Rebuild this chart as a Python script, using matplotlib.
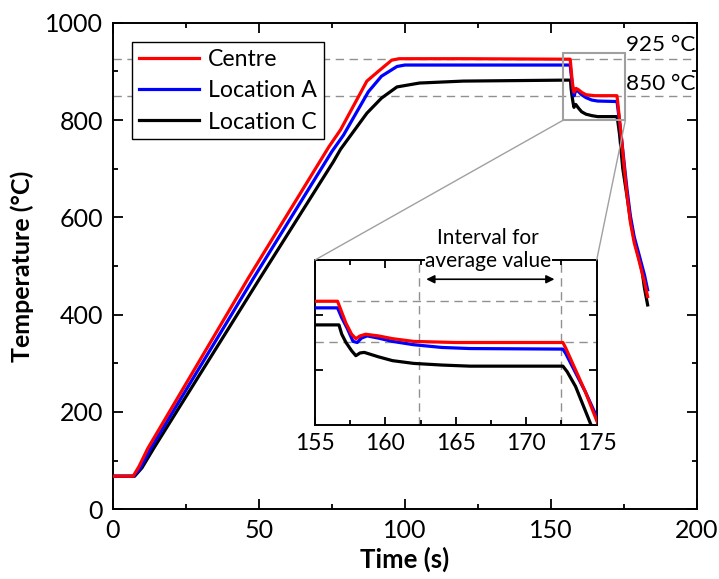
import matplotlib
matplotlib.use("Agg")
import matplotlib.pyplot as plt
import numpy as np
from matplotlib.patches import Rectangle, ConnectionPatch

plt.rcParams['font.family'] = ['Lato', 'DejaVu Sans']

# ---- data ----
centre_t = [0, 7.0, 9.0, 12.0, 46.4, 74.0, 78.0, 87.0, 91.5, 95.5, 98.0, 120.0, 155.0, 156.6,
            156.9, 157.2, 157.6, 157.9, 158.2, 158.6, 159.5, 160.5, 162.0, 165.0, 172.6,
            172.8, 173.5, 174.2, 175.0, 176.0, 177.2, 178.5, 180.0, 181.2, 182.0, 183.1]
centre_T = [68, 68, 88, 125, 475, 745, 780, 880, 903, 923, 926, 926, 925, 925,
            905, 885, 865, 857, 862, 865, 862, 857, 852, 850, 850,
            840, 800, 760, 708, 648, 590, 548, 515, 486, 468, 437]

locA_t = [0, 7.2, 9.5, 13.0, 48.2, 75.0, 79.0, 87.5, 92.0, 97.3, 100.0, 155.0, 156.6,
          156.9, 157.3, 157.7, 158.0, 158.3, 158.7, 159.5, 160.5, 162.0, 164.0, 166.0, 172.6,
          172.8, 173.5, 174.2, 175.0, 176.0, 177.2, 178.5, 180.0, 181.2, 182.0, 183.1]
locA_T = [68, 68, 85, 125, 475, 735, 769, 858, 890, 910, 913, 913, 913,
          895, 875, 852, 850, 858, 862, 858, 852, 846, 841, 839, 838,
          830, 795, 760, 715, 660, 603, 560, 527, 500, 482, 451]

locC_t = [0, 7.5, 10.0, 14.0, 50.4, 75.5, 78.0, 87.0, 92.0, 97.3, 105.0, 120.0, 155.0, 156.7,
          156.9, 157.2, 157.6, 157.9, 158.2, 158.5, 159.5, 160.5, 162.0, 164.0, 166.0, 172.6,
          172.9, 173.5, 174.6, 176.0, 177.2, 178.5, 180.0, 181.2, 182.0, 183.1]
locC_T = [68, 68, 85, 125, 475, 714, 740, 814, 845, 868, 876, 880, 882, 882,
          865, 850, 835, 826, 831, 832, 824, 817, 812, 809, 807, 807,
          797, 770, 700, 645, 595, 555, 518, 490, 455, 420]

series_names = ["Centre", "Location A", "Location C"]
series_colors = ["#ff0000", "#0000ff", "#000000"]
ref_levels = [925, 850]
ref_labels = ["925 °C", "850 °C"]
interval = [162.4, 172.5]
main_xticks = [0, 50, 100, 150, 200]
main_yticks = [0, 200, 400, 600, 800, 1000]
inset_xticks = [155, 160, 165, 170, 175]
inset_yticks = [800, 900]

series = [(centre_t, centre_T), (locA_t, locA_T), (locC_t, locC_T)]

W, H = 719, 579
fig = plt.figure(figsize=(W / 100, H / 100), dpi=100)
ax = fig.add_axes([112.7 / W, 1 - 509.3 / H, (697 - 112.7) / W, (509.3 - 22.7) / H])

grey = "#909090"
for lvl in ref_levels:
    ax.axhline(lvl, color=grey, lw=1.0, ls=(0, (6, 4)), zorder=1)

order = [2, 1, 0]
handles = {}
for i in order:
    t, T = series[i]
    h, = ax.plot(t, T, color=series_colors[i], lw=2.3, label=series_names[i], zorder=3 + (2 - i))
    handles[i] = h

ax.set_xlim(0, 200)
ax.set_ylim(0, 1000)
ax.set_xticks(main_xticks)
ax.set_yticks(main_yticks)
ax.set_xticks(np.arange(25, 200, 50), minor=True)
ax.set_yticks(np.arange(100, 1000, 200), minor=True)
ax.tick_params(which="both", direction="in", top=True, right=True, width=1.3, labelsize=18, pad=7)
ax.tick_params(which="major", length=7)
ax.tick_params(which="minor", length=3.5)
for s in ax.spines.values():
    s.set_linewidth(1.4)
ax.set_xlabel("Time (s)", fontsize=18.5, fontweight="bold", labelpad=3)
ax.set_ylabel("Temperature (°C)", fontsize=18, fontweight="bold", labelpad=8)

leg = ax.legend([handles[0], handles[1], handles[2]], series_names, loc="upper left",
                bbox_to_anchor=(19.0 / 584.3, 1 - 19.0 / 486.6), fontsize=16.7, frameon=True,
                fancybox=False, edgecolor="black", framealpha=1, handlelength=2.6,
                handletextpad=0.4, borderpad=0.3, labelspacing=0.45, borderaxespad=0)
leg.get_frame().set_linewidth(1.0)
leg.set_zorder(10)
for ln in leg.get_lines():
    ln.set_linewidth(2.3)

ax.text(175.6, 954, ref_labels[0], fontsize=16.2, va="center", ha="left", zorder=6)
ax.text(175.6, 875, ref_labels[1], fontsize=16.2, va="center", ha="left", zorder=6)

# zoom rectangle
rx0, rx1, ry0, ry1 = 154.3, 175.5, 800, 937
ax.add_patch(Rectangle((rx0, ry0), rx1 - rx0, ry1 - ry0, fill=False, edgecolor="#a0a0a0",
                       lw=1.5, zorder=7))

# inset
iax = fig.add_axes([315 / W, 1 - 425 / H, (596.7 - 315) / W, (425 - 260) / H])
for lvl in ref_levels:
    iax.axhline(lvl, color=grey, lw=1.0, ls=(0, (6, 4)), zorder=1)
for x in interval:
    iax.axvline(x, color=grey, lw=1.0, ls=(0, (6, 4)), zorder=1)
for i in order:
    t, T = series[i]
    iax.plot(t, T, color=series_colors[i], lw=2.3, zorder=3 + (2 - i))
iax.set_xlim(155, 175)
iax.set_ylim(700, 1000)
iax.set_xticks(inset_xticks)
iax.set_xticks(np.arange(157.5, 175, 5), minor=True)
iax.set_yticks(inset_yticks)
iax.set_yticklabels([])
iax.tick_params(which="both", direction="in", top=True, right=True, width=1.3, labelsize=16.5, pad=6)
iax.tick_params(which="major", length=6)
iax.tick_params(which="minor", length=3.5)
for s in iax.spines.values():
    s.set_linewidth(1.4)
iax.annotate("", xy=(interval[0] + 0.3, 965), xytext=(interval[1] - 0.3, 965),
             arrowprops=dict(arrowstyle="<|-|>", color="black", lw=1.2, mutation_scale=12))
iax.text(167.3, 1019, "Interval for\naverage value", fontsize=15, ha="center", va="center",
         linespacing=1.2, clip_on=False, zorder=10,
         bbox=dict(facecolor="white", edgecolor="none", pad=0.3))

# connector lines
for (xa, xb) in [(rx0, 155), (rx1, 175)]:
    con = ConnectionPatch(xyA=(xa, ry0), coordsA=ax.transData, xyB=(xb, 1000), coordsB=iax.transData,
                          color="#a0a0a0", lw=1.0)
    fig.add_artist(con)

fig.savefig("out.png", dpi=100)
